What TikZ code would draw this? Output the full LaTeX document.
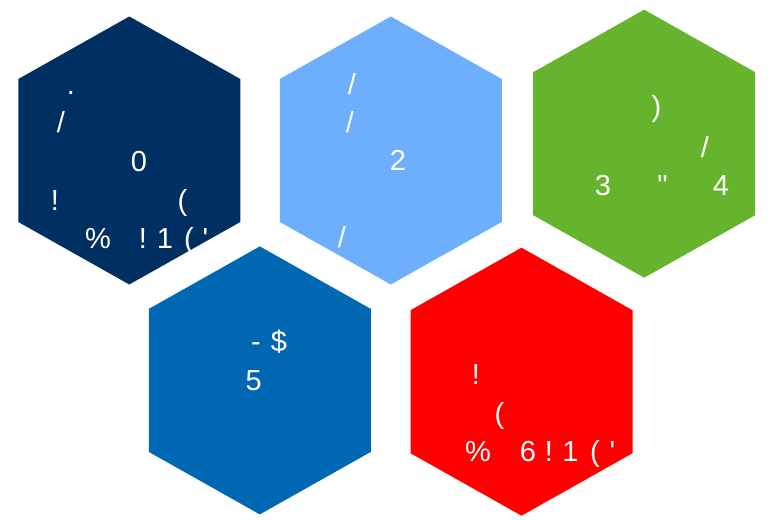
\documentclass[tikz,border=0pt]{standalone}
\usepackage{fontspec}
\setmainfont{Liberation Sans}[Ligatures=TeXOff]
\definecolor{navy}{HTML}{002F62}
\definecolor{sky}{HTML}{6DAFFD}
\definecolor{leaf}{HTML}{66B32E}
\definecolor{mid}{HTML}{0068B3}
\definecolor{redc}{HTML}{FF0000}
\newcommand\myhex[3]{\fill[#3,shift={(#1,#2)}] (0,-134) -- (111,-71.5) -- (111,71.5) -- (0,134) -- (-111,71.5) -- (-111,-71.5) -- cycle;}
\tikzset{ch/.style={text=white,inner sep=0pt,anchor=base,font=\fontsize{29}{32}\selectfont}}
\begin{document}
\begin{tikzpicture}[x=1pt,y=-1pt]
\useasboundingbox (0,0) rectangle (770,519);
\myhex{129.3}{150.5}{navy}
\myhex{390.8}{150.5}{sky}
\myhex{644.2}{143.7}{leaf}
\myhex{259.8}{380.4}{mid}
\myhex{521.5}{381.7}{redc}
% hex 1
\node[ch] (a1) at (71,94.5) {.};
\node[ch] (a2) at (61,132) {/};
\node[ch] (a3) at (139,171.7) {0};
\node[ch] (a4) at (55,210) {!};
\node[ch] (a5) at (182.5,210) {(};
\node[ch] (a6) at (98,248) {\%};
\node[ch] (a7) at (143,248) {!};
\node[ch] (a8) at (165,248) {1};
\node[ch] (a9) at (189,248) {(};
\node[ch] (a10) at (205.5,248) {'};
% hex 2
\node[ch] (b1) at (352,94) {/};
\node[ch] (b2) at (350,132) {/};
\node[ch] (b3) at (398,170) {2};
\node[ch] (b4) at (342,247) {/};
% hex 3
\node[ch] (c1) at (656.5,116) {)};
\node[ch] (c2) at (705,157) {/};
\node[ch] (c3) at (603,195) {3};
\node[ch] (c4) at (662.5,195) {"};
\node[ch] (c5) at (721,195) {4};
% hex 4
\node[ch] (d1) at (256,351) {-};
\node[ch] (d2) at (279,351) {\$};
\node[ch] (d3) at (253.7,390) {5};
% hex 5
\node[ch] (e1) at (476,384) {!};
\node[ch] (e2) at (499.5,423) {(};
\node[ch] (e3) at (478,461) {\%};
\node[ch] (e4) at (528,461) {6};
\node[ch] (e5) at (549,461) {!};
\node[ch] (e6) at (570.5,461) {1};
\node[ch] (e7) at (595,461) {(};
\node[ch] (e8) at (612.5,461) {'};
\end{tikzpicture}
\end{document}
